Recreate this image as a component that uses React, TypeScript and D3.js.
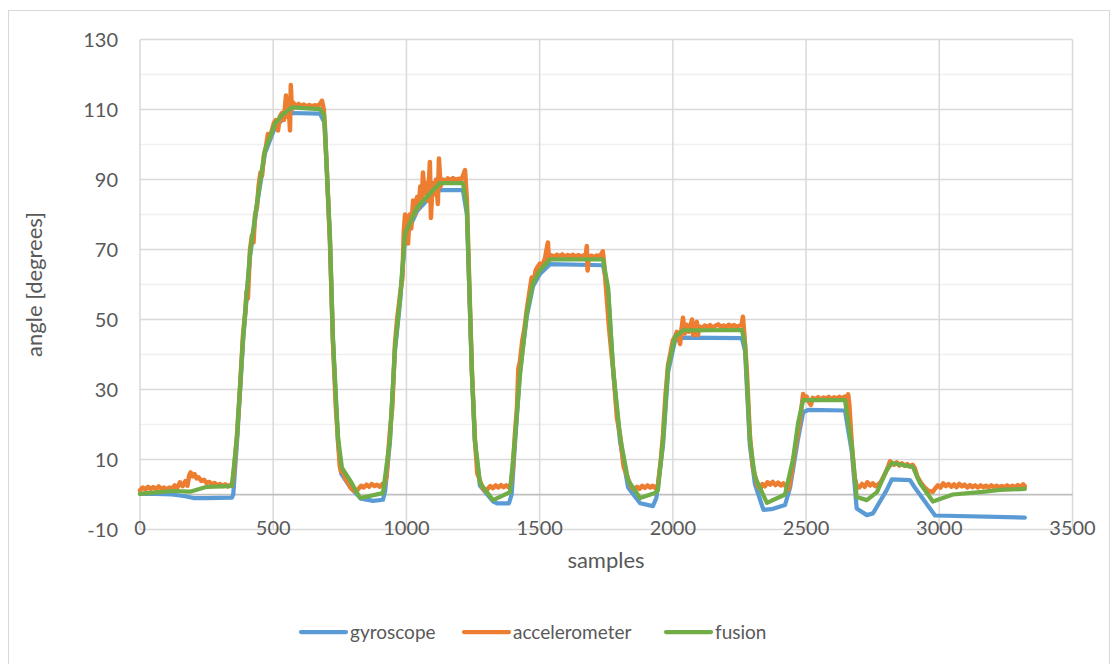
import React from "react";
import * as d3 from "d3";

// Sensor traces: [sample index, angle in degrees]
const gyroscope: [number, number][] = [
  [0, 0.2], [60, 0.2], [120, 0], [170, -0.5], [200, -1], [250, -1], [345, -0.9], [350, 0],
  [364, 15], [387, 44], [413, 68], [439, 82.5], [469, 97.5], [507, 105], [533, 107], [563, 109],
  [676, 108.8], [694, 106], [713, 72], [724, 44], [743, 15], [755, 6], [790, 2], [830, -1.2],
  [875, -1.8], [912, -1.5], [920, 1], [938, 15], [957, 41], [976, 55], [995, 73.5], [1040, 81],
  [1088, 85], [1126, 87], [1212, 87], [1227, 80], [1246, 34], [1257, 15], [1276, 2.5], [1325, -2],
  [1340, -2.5], [1385, -2.5], [1395, 0], [1407, 14], [1426, 35], [1452, 51], [1475, 59.5],
  [1501, 63], [1539, 65.8], [1738, 65.5], [1757, 58], [1776, 35], [1802, 15], [1832, 2],
  [1877, -2.5], [1925, -3.3], [1938, -1], [1963, 14], [1982, 35], [2008, 44], [2038, 44.8],
  [2259, 44.7], [2271, 41], [2289, 14], [2308, 3], [2340, -4.4], [2370, -4.2], [2421, -3],
  [2440, 2], [2470, 16], [2489, 23.5], [2510, 24.2], [2646, 24], [2672, 12], [2690, -4],
  [2728, -5.9], [2751, -5.4], [2803, 1.3], [2822, 4.3], [2890, 4.1], [2908, 2], [2984, -6],
  [3321, -6.6],
];

const accelerometer: [number, number][] = [
  [0, 1.2], [10, 2], [20, 1.4], [30, 2.2], [40, 1.6], [50, 2.1], [60, 1.5], [70, 2.3], [80, 1.7],
  [90, 2], [100, 1.3], [110, 2], [120, 1.6], [130, 2.6], [140, 1.9], [150, 3.5], [160, 2.4],
  [170, 3.8], [178, 2.5], [185, 5.5], [190, 6.3], [198, 5.2], [205, 5.8], [212, 4.6], [220, 4.9],
  [230, 3.9], [240, 4.2], [250, 3.3], [260, 3.6], [270, 2.9], [280, 3.3], [290, 2.6], [300, 3],
  [310, 2.4], [320, 2.9], [330, 2.3], [340, 2.8], [345, 2.5],
  [352, 6], [364, 17], [375, 30], [387, 46], [395, 52], [400, 58], [405, 56], [413, 70], [420, 74],
  [426, 72], [432, 80], [439, 82], [445, 88], [452, 92], [458, 91], [465, 97], [472, 99],
  [480, 103], [488, 102], [495, 104], [502, 106], [510, 107], [518, 104], [525, 108], [533, 109],
  [540, 107], [548, 114], [552, 108], [558, 111], [563, 104], [566, 117], [570, 110], [575, 112],
  [585, 111], [595, 111.6], [605, 111], [615, 111.4], [625, 110.8], [635, 111.3], [645, 110.9],
  [655, 111.2], [665, 111], [675, 111.5], [683, 112.5], [690, 110],
  [700, 95], [713, 72], [724, 44], [735, 25], [743, 16], [750, 8], [755, 6.5], [762, 7], [770, 4.5],
  [780, 3.5], [790, 2], [800, 1.2], [810, 1], [820, 1.6], [830, 2.5], [840, 2], [850, 2.8],
  [860, 2.2], [870, 3], [880, 2.4], [890, 2.8], [900, 2.2], [910, 3], [915, 2.2],
  [925, 5], [938, 18], [947, 25], [957, 43], [965, 50], [976, 57], [985, 62], [990, 75], [995, 80],
  [1000, 77], [1006, 71.7], [1012, 80], [1018, 76], [1025, 84], [1032, 80], [1040, 85], [1046, 82],
  [1052, 88], [1058, 84], [1062, 92], [1068, 86], [1075, 89], [1081, 84], [1088, 95], [1092, 79],
  [1098, 89], [1105, 86], [1111, 90], [1118, 83], [1122, 96], [1128, 88], [1135, 90],
  [1145, 89.5], [1155, 90.3], [1165, 89.8], [1175, 90.4], [1185, 89.9], [1195, 90.2], [1205, 90],
  [1212, 91], [1220, 92.7], [1227, 84],
  [1236, 60], [1246, 35], [1257, 16], [1266, 6], [1276, 4], [1285, 2], [1295, 1], [1305, 1.6],
  [1315, 2.4], [1325, 1.8], [1335, 2.6], [1345, 2], [1355, 2.7], [1365, 2.1], [1375, 2.6],
  [1385, 2], [1392, 3],
  [1400, 8], [1407, 17], [1415, 25], [1420, 36], [1426, 38], [1435, 44], [1442, 47], [1452, 53],
  [1460, 57], [1470, 62], [1478, 61], [1485, 64], [1492, 65], [1501, 66], [1510, 65.5],
  [1520, 67.5], [1531, 72], [1535, 67], [1545, 68.3], [1555, 67.8], [1565, 68.5], [1575, 68],
  [1585, 68.6], [1595, 67.9], [1605, 68.4], [1615, 68], [1625, 68.5], [1635, 67.8], [1645, 68.4],
  [1655, 68], [1665, 68.3], [1672, 67.5], [1677, 71], [1680, 64], [1685, 68], [1695, 68.2],
  [1705, 67.8], [1715, 68.3], [1725, 68], [1732, 68.8], [1737, 69.5], [1742, 66],
  [1750, 58], [1760, 48], [1770, 40], [1776, 36], [1790, 22], [1802, 17], [1815, 8], [1832, 4.5],
  [1845, 2], [1855, 1.5], [1865, 2.2], [1875, 1.6], [1885, 2.5], [1895, 1.9], [1905, 2.6],
  [1915, 2], [1925, 2.5], [1935, 1.7], [1944, 2.8],
  [1955, 10], [1963, 17], [1972, 28], [1982, 37], [1990, 40], [2000, 44], [2008, 45],
  [2015, 46.5], [2027, 43], [2032, 47], [2038, 50.5], [2045, 46], [2052, 48.5], [2060, 46.5],
  [2066, 48], [2072, 50], [2076, 45.5], [2082, 48], [2090, 49.3], [2094, 45.5], [2100, 48],
  [2110, 47.6], [2120, 48.3], [2130, 47.8], [2140, 48.4], [2150, 47.7], [2160, 48.2],
  [2170, 48.6], [2180, 47.9], [2190, 48.3], [2200, 47.8], [2210, 48.5], [2220, 48], [2230, 48.4],
  [2240, 47.9], [2250, 48.2], [2258, 48.5], [2263, 50.8], [2268, 46],
  [2278, 35], [2289, 17], [2300, 8], [2308, 5.5], [2318, 2.5], [2328, 1.5], [2336, 3],
  [2345, 2.3], [2355, 3.5], [2365, 2.8], [2375, 3.6], [2385, 2.7], [2395, 3.4], [2405, 2.6],
  [2415, 3.2], [2425, 2.2], [2435, 1.5],
  [2445, 6], [2455, 11], [2470, 18], [2480, 23], [2489, 28.7], [2495, 27], [2502, 28],
  [2510, 26.5], [2518, 25.6], [2525, 27.6], [2535, 27.2], [2545, 27.8], [2555, 27.1],
  [2565, 27.7], [2575, 27.3], [2585, 27.9], [2595, 27.2], [2605, 27.8], [2615, 27.3],
  [2625, 27.9], [2635, 27.4], [2645, 28], [2652, 27.5], [2658, 28.6], [2662, 26],
  [2672, 14], [2682, 5], [2690, 2.5], [2700, 2], [2710, 3], [2720, 2.2], [2730, 3.5], [2740, 2.6],
  [2750, 3.2], [2760, 2.4], [2770, 2.8], [2780, 3.5], [2790, 5], [2800, 6.5], [2808, 8],
  [2815, 9.5], [2822, 9], [2830, 8.5], [2840, 9.2], [2850, 8.3], [2860, 8.9], [2870, 8.2],
  [2880, 8.7], [2890, 8], [2900, 8.5], [2908, 7.5],
  [2918, 5], [2930, 3.5], [2945, 2], [2960, 1], [2976, 0.8], [2985, 1.8], [2995, 2.6], [3005, 2],
  [3015, 3.2], [3025, 2.4], [3035, 3], [3045, 2.2], [3055, 2.9], [3065, 2.1], [3075, 3],
  [3085, 2.3], [3095, 2.8], [3105, 2], [3115, 2.7], [3125, 2.1], [3135, 2.6], [3145, 2],
  [3155, 2.6], [3165, 2.1], [3175, 2.5], [3185, 2], [3195, 2.6], [3205, 2.1], [3215, 2.5],
  [3225, 2], [3235, 2.4], [3245, 2.1], [3255, 2.6], [3265, 2], [3275, 2.5], [3285, 2.1],
  [3295, 2.7], [3305, 2.2], [3315, 2.9], [3321, 2.3],
];

const fusion: [number, number][] = [
  [0, 0.2], [60, 0.6], [120, 1], [188, 0.8], [251, 2.2], [338, 2.4], [345, 2.6], [364, 16.4],
  [387, 45], [413, 69], [439, 83.3], [469, 98.4], [507, 106], [533, 108.4], [570, 110.6],
  [676, 110.1], [691, 108.4], [713, 73.6], [724, 45], [743, 16.4], [758, 7.6], [788, 4.1],
  [826, -1], [912, 0.4], [938, 15.6], [957, 42], [976, 56], [995, 74.6], [1040, 82], [1088, 86],
  [1126, 89], [1212, 89], [1227, 82], [1246, 34.6], [1257, 15.6], [1276, 3.3], [1325, -1.6],
  [1389, 0.7], [1407, 15.6], [1426, 34], [1452, 52], [1475, 60.4], [1501, 64], [1539, 67.2],
  [1738, 67.2], [1757, 59], [1776, 35.6], [1802, 16.4], [1832, 4], [1877, -1], [1933, 0.4],
  [1944, 1.3], [1963, 15.6], [1982, 36.4], [2008, 45], [2038, 46.9], [2259, 47], [2271, 43],
  [2289, 15.6], [2308, 5], [2353, -2.4], [2421, 0], [2451, 10], [2470, 20.4], [2489, 27],
  [2646, 27], [2672, 13.6], [2690, -0.7], [2728, -1.6], [2766, 0.7], [2803, 7], [2822, 9],
  [2901, 7.9], [2927, 3.3], [2976, -2], [3051, 0], [3153, 0.7], [3228, 1.3], [3321, 1.6],
];

const xTicks = [0, 500, 1000, 1500, 2000, 2500, 3000, 3500];
const yTicks = [-10, 10, 30, 50, 70, 90, 110, 130];
const yMinorTicks = [20, 40, 60, 80, 100, 120];

const seriesList = [
  { name: "gyroscope", color: "#5B9BD5", data: gyroscope, width: 4.25 },
  { name: "accelerometer", color: "#ED7D31", data: accelerometer, width: 4.5 },
  { name: "fusion", color: "#70AD47", data: fusion, width: 4.25 },
];

const W = 1118;
const H = 664;
const FONT = "Lato, 'Open Sans', sans-serif";
const TEXT = "#595959";

export default function App() {
  const x = d3.scaleLinear().domain([0, 3500]).range([140, 1072.5]);
  const y = d3.scaleLinear().domain([-10, 130]).range([529.5, 39.5]);
  const line = d3
    .line<[number, number]>()
    .x((d) => x(d[0]))
    .y((d) => y(d[1]));

  const legendX = [300, 463, 665];

  return (
    <svg
      width={W}
      height={H}
      style={{ position: "absolute", left: 0, top: 0, background: "#fff" }}
    >
      <rect x={8.5} y={10.5} width={1101} height={660} fill="#fff" stroke="#d9d9d9" strokeWidth={1} />

      {/* minor horizontal gridlines */}
      {yMinorTicks.map((t) => (
        <line key={"m" + t} x1={x(0)} x2={x(3500)} y1={y(t)} y2={y(t)} stroke="#f0f0f0" strokeWidth={1.5} />
      ))}
      {/* major horizontal gridlines */}
      {yTicks.map((t) => (
        <line key={"h" + t} x1={x(0)} x2={x(3500)} y1={y(t)} y2={y(t)} stroke="#d9d9d9" strokeWidth={1.5} />
      ))}
      {/* vertical gridlines */}
      {xTicks.map((t) => (
        <line key={"v" + t} x1={x(t)} x2={x(t)} y1={y(130)} y2={y(-10)} stroke="#d9d9d9" strokeWidth={1.5} />
      ))}
      {/* zero axis */}
      <line x1={x(0)} x2={x(3500)} y1={y(0)} y2={y(0)} stroke="#bfbfbf" strokeWidth={1.75} />

      {/* series */}
      {seriesList.map((s) => (
        <path
          key={s.name}
          d={line(s.data) || ""}
          fill="none"
          stroke={s.color}
          strokeWidth={s.width}
          strokeLinejoin="round"
          strokeLinecap="round"
        />
      ))}

      {/* y tick labels */}
      {yTicks.map((t) => (
        <text key={"yl" + t} x={118} y={y(t)} dy="0.35em" textAnchor="end" fontFamily={FONT} fontSize={20} fill={TEXT}>
          {t}
        </text>
      ))}
      {/* x tick labels */}
      {xTicks.map((t) => (
        <text key={"xl" + t} x={x(t)} y={535} textAnchor="middle" fontFamily={FONT} fontSize={20} fill={TEXT}>
          {t}
        </text>
      ))}

      {/* axis titles */}
      <text x={606} y={568} textAnchor="middle" fontFamily={FONT} fontSize={22} fill={TEXT}>
        samples
      </text>
      <text
        transform={`translate(42, ${y(60)}) rotate(-90)`}
        textAnchor="middle"
        fontFamily={FONT}
        fontSize={22}
        fill={TEXT}
      >
        angle [degrees]
      </text>

      {/* legend */}
      {seriesList.map((s, i) => (
        <g key={"lg" + s.name} transform={`translate(${legendX[i]}, 632)`}>
          <line x1={1} x2={46} y1={0} y2={0} stroke={s.color} strokeWidth={4.25} strokeLinecap="round" />
          <text x={50} y={0} dy="0.35em" fontFamily={FONT} fontSize={19} fill={TEXT}>
            {s.name}
          </text>
        </g>
      ))}
    </svg>
  );
}
